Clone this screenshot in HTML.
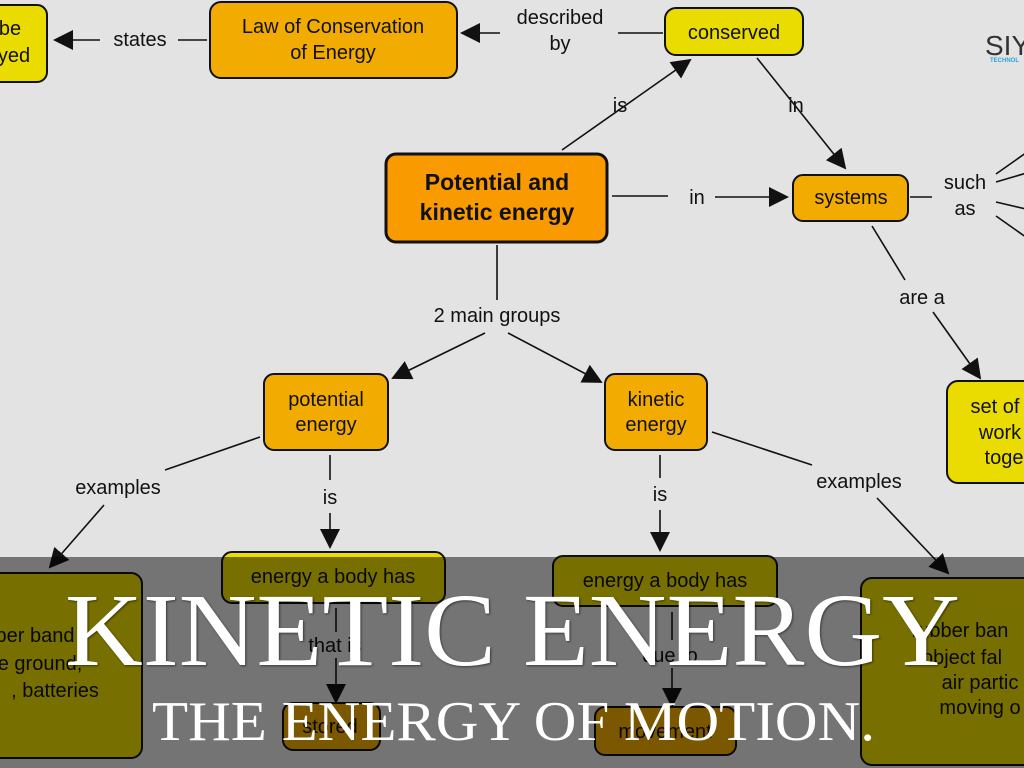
<!DOCTYPE html>
<html><head><meta charset="utf-8"><style>
html,body{margin:0;padding:0;background:#e3e3e3;}
svg{display:block;}
.t{font-family:"Liberation Sans",sans-serif;font-size:20px;fill:#111;text-anchor:middle;}
.b{font-weight:bold;font-size:23px;}
.n{stroke:#111;stroke-width:2;}
.l{stroke:#111;stroke-width:1.6;fill:none;}
</style></head><body>
<svg width="1024" height="768" viewBox="0 0 1024 768" xmlns="http://www.w3.org/2000/svg">
<defs><marker id="a" viewBox="0 0 10 10" refX="9" refY="5" markerWidth="11" markerHeight="11" markerUnits="userSpaceOnUse" orient="auto"><path d="M0,0L10,5L0,10z" fill="#111"/></marker>
<marker id="A" viewBox="0 0 10 10" refX="9" refY="5" markerWidth="20" markerHeight="20" markerUnits="userSpaceOnUse" orient="auto"><path d="M0,0L10,5L0,10z" fill="#111"/></marker></defs>
<rect width="1024" height="768" fill="#e3e3e3"/>
<!-- connectors -->
<g class="l">
<line x1="100" y1="40" x2="55" y2="40" marker-end="url(#A)"/>
<line x1="178" y1="40" x2="207" y2="40"/>
<line x1="500" y1="33" x2="462" y2="33" marker-end="url(#A)"/>
<line x1="618" y1="33" x2="663" y2="33"/>
<line x1="562" y1="150" x2="690" y2="60" marker-end="url(#A)"/>
<line x1="757" y1="58" x2="845" y2="168" marker-end="url(#A)"/>
<line x1="612" y1="196" x2="668" y2="196"/>
<line x1="715" y1="197" x2="787" y2="197" marker-end="url(#A)"/>
<line x1="910" y1="197" x2="932" y2="197"/>
<line x1="996" y1="174" x2="1030" y2="150"/>
<line x1="996" y1="182" x2="1030" y2="172"/>
<line x1="996" y1="202" x2="1030" y2="210"/>
<line x1="996" y1="216" x2="1030" y2="240"/>
<line x1="872" y1="226" x2="905" y2="280"/>
<line x1="933" y1="312" x2="980" y2="378" marker-end="url(#A)"/>
<line x1="497" y1="245" x2="497" y2="300"/>
<line x1="485" y1="333" x2="393" y2="378" marker-end="url(#A)"/>
<line x1="508" y1="333" x2="601" y2="382" marker-end="url(#A)"/>
<line x1="260" y1="437" x2="165" y2="470"/>
<line x1="104" y1="505" x2="50" y2="567" marker-end="url(#A)"/>
<line x1="330" y1="455" x2="330" y2="480"/>
<line x1="330" y1="513" x2="330" y2="547" marker-end="url(#A)"/>
<line x1="660" y1="455" x2="660" y2="478"/>
<line x1="660" y1="510" x2="660" y2="550" marker-end="url(#A)"/>
<line x1="712" y1="432" x2="812" y2="465"/>
<line x1="877" y1="498" x2="948" y2="573" marker-end="url(#A)"/>
<line x1="336" y1="608" x2="336" y2="632"/>
<line x1="336" y1="658" x2="336" y2="702" marker-end="url(#A)"/>
<line x1="672" y1="612" x2="672" y2="640"/>
<line x1="672" y1="668" x2="672" y2="706" marker-end="url(#A)"/>
</g>
<!-- nodes -->
<rect class="n" x="-12" y="5" width="59" height="77" rx="10" fill="#eadb00"/>
<text class="t" x="10" y="35">be</text><text class="t" x="14" y="62">yed</text>
<rect class="n" x="210" y="2" width="247" height="76" rx="11" fill="#f2ab00"/>
<text class="t" x="333" y="33">Law of Conservation</text><text class="t" x="333" y="59">of Energy</text>
<rect class="n" x="665" y="8" width="138" height="47" rx="11" fill="#eadb00"/>
<text class="t" x="734" y="39">conserved</text>
<rect x="386" y="154" width="221" height="88" rx="10" fill="#f99a00" stroke="#111" stroke-width="3"/>
<text class="t b" x="497" y="190">Potential and</text><text class="t b" x="497" y="220">kinetic energy</text>
<rect class="n" x="793" y="175" width="115" height="46" rx="10" fill="#f2ab00"/>
<text class="t" x="851" y="204">systems</text>
<rect class="n" x="947" y="381" width="90" height="102" rx="11" fill="#eadb00"/>
<text class="t" x="995" y="413">set of</text><text class="t" x="1000" y="439">work</text><text class="t" x="1004" y="464">toge</text>
<rect class="n" x="264" y="374" width="124" height="76" rx="10" fill="#f2ab00"/>
<text class="t" x="326" y="406">potential</text><text class="t" x="326" y="431">energy</text>
<rect class="n" x="605" y="374" width="102" height="76" rx="10" fill="#f2ab00"/>
<text class="t" x="656" y="406">kinetic</text><text class="t" x="656" y="431">energy</text>
<rect class="n" x="222" y="552" width="223" height="51" rx="10" fill="#eadb00"/>
<text class="t" x="333" y="583">energy a body has</text>
<rect class="n" x="553" y="556" width="224" height="50" rx="10" fill="#eadb00"/>
<text class="t" x="665" y="587">energy a body has</text>
<rect class="n" x="-12" y="573" width="154" height="185" rx="11" fill="#eadb00"/>
<text class="t" x="35" y="642">ber band</text><text class="t" x="40" y="670">e ground,</text><text class="t" x="55" y="697">, batteries</text>
<rect class="n" x="861" y="578" width="175" height="187" rx="11" fill="#eadb00"/>
<text class="t" x="960" y="637">rubber ban</text><text class="t" x="962" y="664">object fal</text><text class="t" x="980" y="689">air partic</text><text class="t" x="980" y="714">moving o</text>
<rect class="n" x="283" y="703" width="97" height="47" rx="10" fill="#f2ab00"/>
<text class="t" x="330" y="733">stored</text>
<rect class="n" x="595" y="707" width="141" height="48" rx="10" fill="#f2ab00"/>
<text class="t" x="665" y="738">movement</text>
<!-- labels -->
<g class="t">
<text x="140" y="46">states</text>
<text x="560" y="24">described</text><text x="560" y="50">by</text>
<text x="620" y="112">is</text>
<text x="796" y="112">in</text>
<text x="697" y="204">in</text>
<text x="965" y="189">such</text><text x="965" y="215">as</text>
<text x="922" y="304">are a</text>
<text x="497" y="322">2 main groups</text>
<text x="118" y="494">examples</text>
<text x="330" y="504">is</text>
<text x="660" y="501">is</text>
<text x="859" y="488">examples</text>
<text x="335" y="652">that is</text>
<text x="670" y="662">due to</text>
</g>
<text x="985" y="55" font-family="Liberation Sans,sans-serif" font-size="28" fill="#333">SIY</text>
<text x="990" y="62" font-family="Liberation Sans,sans-serif" font-size="6" font-weight="bold" fill="#2aa6d8">TECHNOL</text>
<!-- overlay -->
<rect x="0" y="557" width="1024" height="211" fill="rgba(0,0,0,0.49)"/>
<text x="65" y="665" textLength="895" lengthAdjust="spacingAndGlyphs" font-family="Liberation Serif,serif" font-size="104" fill="#fff" style="text-shadow:1px 1px 2px rgba(0,0,0,.5)">KINETIC ENERGY</text>
<text x="152" y="740" textLength="723" lengthAdjust="spacingAndGlyphs" font-family="Liberation Serif,serif" font-size="56" fill="#fff">THE ENERGY OF MOTION.</text>
</svg>
</body></html>
